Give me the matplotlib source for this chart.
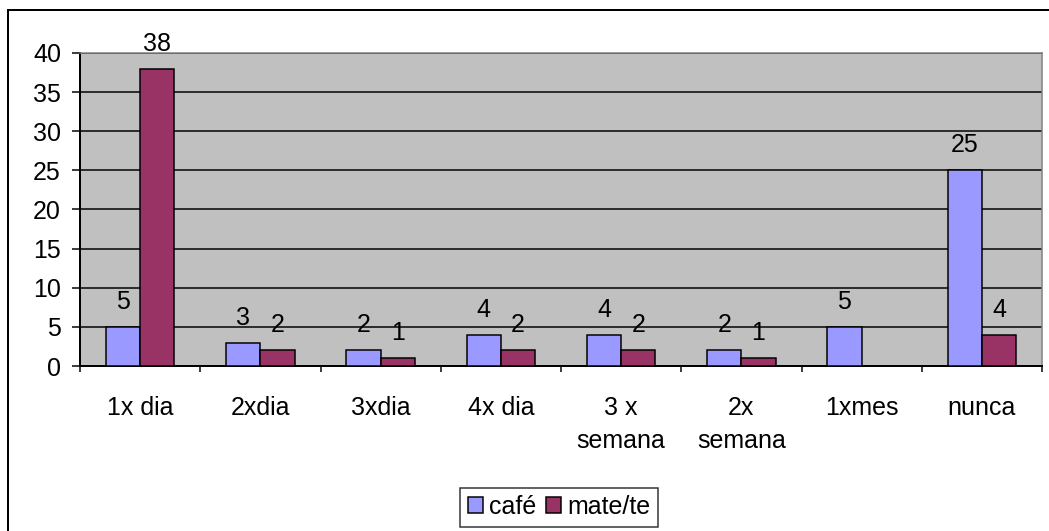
import matplotlib
matplotlib.use("Agg")
import matplotlib.pyplot as plt
from matplotlib.patches import Rectangle
import numpy as np

plt.rcParams['font.family'] = ['Liberation Sans', 'DejaVu Sans']

categories = ["1x dia", "2xdia", "3xdia", "4x dia", "3 x\nsemana", "2x\nsemana", "1xmes", "nunca"]
cafe = [5, 3, 2, 4, 4, 2, 5, 25]
mate_te = [38, 2, 1, 2, 2, 1, None, 4]
series_names = ["café", "mate/te"]
yticks = [0, 5, 10, 15, 20, 25, 30, 35, 40]

DPI = 72
W, H = 1049, 531
FS = 25
LW = 1.5
fig = plt.figure(figsize=(W / DPI, H / DPI), dpi=DPI)

# outer chart frame (extends past right and bottom edges)
fig.patches.append(Rectangle((8 / W, -0.05), 1.1, 1 - 10 / H + 0.05,
                             transform=fig.transFigure, fill=False,
                             edgecolor="black", linewidth=2))

left, right, top, bottom = 80, 1042, 53, 366
ax = fig.add_axes([left / W, 1 - bottom / H, (right - left) / W, (bottom - top) / H])
ax.set_facecolor("#C0C0C0")

x = np.arange(len(categories))
w = 1 / 3.5
c1, c2 = "#9999FF", "#993366"

for i, v in enumerate(cafe):
    if v is not None:
        ax.bar(x[i] - w / 2, v, w, color=c1, edgecolor="black", linewidth=LW, zorder=3)
        ax.annotate(str(v), (x[i] - w / 2, v), xytext=(0, 25), textcoords="offset points",
                    ha="center", va="center", fontsize=FS, zorder=4)
for i, v in enumerate(mate_te):
    if v is not None:
        ax.bar(x[i] + w / 2, v, w, color=c2, edgecolor="black", linewidth=LW, zorder=3)
        ax.annotate(str(v), (x[i] + w / 2, v), xytext=(0, 25), textcoords="offset points",
                    ha="center", va="center", fontsize=FS, zorder=4)

ax.set_xlim(-0.5, len(categories) - 0.5)
ax.set_ylim(0, 40)
ax.set_yticks(yticks)
ax.set_yticklabels([str(t) for t in yticks], fontsize=FS)
ax.yaxis.grid(True, color="black", linewidth=LW, zorder=1)
ax.set_axisbelow(True)

ax.set_xticks(np.arange(len(categories) + 1) - 0.5)
ax.set_xticklabels([])
ax.set_xticks(x, minor=True)
ax.set_xticklabels(categories, minor=True, fontsize=FS, linespacing=1.5, va="top")
ax.tick_params(axis="x", which="minor", length=0, pad=30)
ax.tick_params(axis="x", which="major", length=6, width=LW, direction="out")
ax.tick_params(axis="y", length=8, width=LW, direction="out", pad=11)

for s in ["left", "bottom"]:
    ax.spines[s].set_color("black")
    ax.spines[s].set_linewidth(2)
for s in ["top", "right"]:
    ax.spines[s].set_color("#808080")
    ax.spines[s].set_linewidth(LW)

handles = [Rectangle((0, 0), 1, 1, facecolor=c1, edgecolor="black", linewidth=LW),
           Rectangle((0, 0), 1, 1, facecolor=c2, edgecolor="black", linewidth=LW)]
leg = fig.legend(handles, series_names, loc="center", bbox_to_anchor=(559 / W, 1 - 507 / H),
                 ncol=2, fontsize=FS, frameon=True, fancybox=False, handlelength=0.6,
                 handleheight=0.6, handletextpad=0.25, columnspacing=0.4, borderpad=0.3)
leg.get_frame().set_edgecolor("black")
leg.get_frame().set_linewidth(LW)

fig.savefig("out.png", dpi=DPI)
